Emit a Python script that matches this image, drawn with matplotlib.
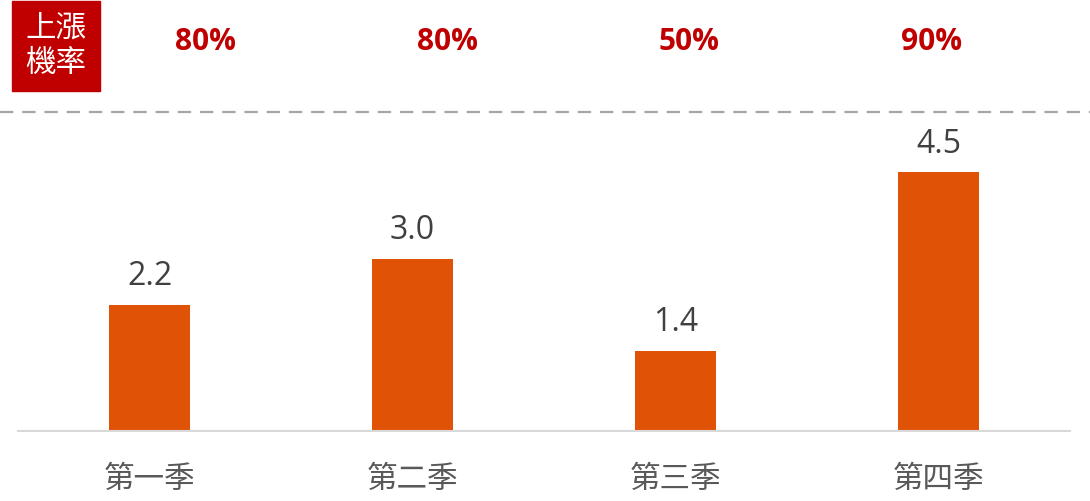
import matplotlib
matplotlib.use("Agg")
import matplotlib.pyplot as plt
from matplotlib.lines import Line2D
from matplotlib.patches import Rectangle

plt.rcParams["font.family"] = ["Noto Sans CJK TC", "DejaVu Sans"]

quarters = ["第一季", "第二季", "第三季", "第四季"]
avg_return = [2.2, 3.0, 1.4, 4.5]
rise_prob = [80, 80, 50, 90]

W, H = 1090, 502
fig = plt.figure(figsize=(W / 100, H / 100), dpi=100)

ax = fig.add_axes([18 / W, (H - 432) / H, 1052 / W, 319 / H])
x = list(range(len(quarters)))
bars = ax.bar(x, avg_return, width=0.31, color="#E05206")
ax.set_xlim(-0.5, len(quarters) - 0.5)
ax.set_ylim(0, 319 / 57.5)

for rect, v in zip(bars, avg_return):
    ax.annotate(f"{v:.1f}", (rect.get_x() + rect.get_width() / 2, v),
                xytext=(0, 14.5), textcoords="offset points",
                ha="center", va="baseline", fontsize=23,
                color="#404040", family=["Open Sans", "DejaVu Sans"])

for s in ["top", "right", "left"]:
    ax.spines[s].set_visible(False)
ax.spines["bottom"].set_color("#D9D9D9")
ax.spines["bottom"].set_linewidth(1.5)
ax.set_yticks([])
ax.set_xticks(x)
ax.set_xticklabels(quarters, fontsize=22, color="#595959")
ax.tick_params(axis="x", length=0, pad=23)

# dashed separator across the figure
fig.add_artist(Line2D([0, 1], [1 - 113 / H, 1 - 113 / H],
                      transform=fig.transFigure, color="#A6A6A6",
                      lw=1.6, dashes=(6, 4)))

# red label box
fig.add_artist(Rectangle((12 / W, 1 - 92 / H), 88 / W, 90 / H,
                         transform=fig.transFigure, color="#C00000"))
fig.text(56 / W, 1 - 28 / H, "上漲", ha="center", va="center",
         fontsize=22, color="white")
fig.text(56 / W, 1 - 63 / H, "機率", ha="center", va="center",
         fontsize=22, color="white")

prob_x = [205, 447, 689, 932]
for px, p in zip(prob_x, rise_prob):
    fig.text(px / W, 1 - 42 / H, f"{p}%", ha="center", va="center",
             fontsize=21.5, fontweight="bold", color="#C00000",
             family=["Open Sans", "DejaVu Sans"])

fig.savefig("out.png", dpi=100, facecolor="white")
